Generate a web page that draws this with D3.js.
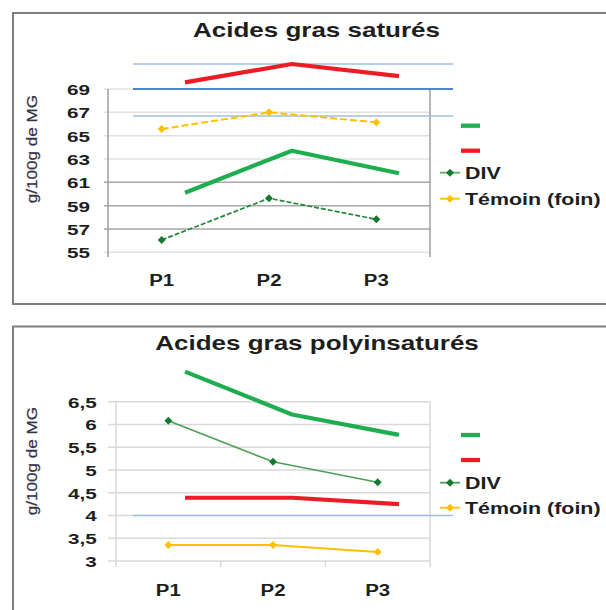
<!DOCTYPE html>
<html><head><meta charset="utf-8">
<script src="https://cdn.jsdelivr.net/npm/d3@7"></script>
<style>
html,body{margin:0;padding:0;background:#fff;}
svg{display:block;font-family:"Liberation Sans",Arial,sans-serif;}
</style></head><body>
<svg id="c" width="606" height="610"></svg>
<script>
// ---------- DATA ----------
const categories = ["P1", "P2", "P3"];
const legendLabels = ["", "", "DIV", "Témoin (foin)"];
const yAxisTitle = "g/100g de MG";

// Chart 1 : Acides gras saturés
const satTitle = "Acides gras saturés";
const satTicks = [55, 57, 59, 61, 63, 65, 67, 69];
const satTickLabels = ["55", "57", "59", "61", "63", "65", "67", "69"];
const satDIV = [56.06, 59.63, 57.83];
const satTemoin = [65.57, 67.0, 66.14];
const satGreen = [60.11, 63.71, 61.78];
const satRed = [69.57, 71.14, 70.11];
const satRefLines = [71.14, 69, 66.69];
const satStrongGrid = [57, 59, 61];

// Chart 2 : Acides gras polyinsaturés
const polyTitle = "Acides gras polyinsaturés";
const polyTicks = [3, 3.5, 4, 4.5, 5, 5.5, 6, 6.5];
const polyTickLabels = ["3", "3,5", "4", "4,5", "5", "5,5", "6", "6,5"];
const polyDIV = [6.08, 5.18, 4.73];
const polyTemoin = [3.35, 3.35, 3.20];
const polyGreen = [7.16, 6.22, 5.77];
const polyRed = [4.39, 4.39, 4.25];
const polyRefLines = [4.0];
const polyStrongGrid = [];

// ---------- STYLE / LAYOUT ----------
const C = {
  green: "#1fae4f", red: "#ec1c24", div: "#1f8539", divMarker: "#157a2f",
  yellow: "#ffc000", frame: "#7f7f7f", text: "#1e1e1e", ytitle: "#34354c"
};

const panels = [
  {
    title: satTitle, ticks: satTicks, tickLabels: satTickLabels,
    div: satDIV, temoin: satTemoin, green: satGreen, red: satRed,
    refLines: satRefLines, strong: satStrongGrid,
    frameY: 13, frameH: 291, titleY: 37, titleX: 316.5,
    plotX: [108, 430], yDomain: [55, 69], yRange: [252.3, 89], axisBottom: 257,
    gridX0: 104, labelEnd: 90, catBase: 286, yTitleY: 149,
    legendY: [125.7, 150.7, 172.7, 198.7],
    axisColor: "#9c9c9c", gridLight: "#e2e2e2", gridStrong: "#a8a8a8",
    dashed: true, divLineColor: "#23873a", divLegendLine: "#5cb460"
  },
  {
    title: polyTitle, ticks: polyTicks, tickLabels: polyTickLabels,
    div: polyDIV, temoin: polyTemoin, green: polyGreen, red: polyRed,
    refLines: polyRefLines, strong: polyStrongGrid,
    frameY: 326.5, frameH: 400, titleY: 350, titleX: 317,
    plotX: [116, 430], yDomain: [3, 6.5], yRange: [561, 401.7], axisBottom: 567,
    gridX0: 108, labelEnd: 96.7, catBase: 596, yTitleY: 461,
    legendY: [435, 460, 482.7, 507.7],
    axisColor: "#d9d9d9", gridLight: "#d9d9d9", gridStrong: "#a8a8a8",
    dashed: false, divLineColor: "#4c9f5a", divLegendLine: "#4c9f5a"
  }
];

const svg = d3.select("#c");

panels.forEach(p => {
  const g = svg.append("g");

  // frame
  g.append("rect").attr("x", 13).attr("y", p.frameY).attr("width", 700).attr("height", p.frameH)
    .attr("fill", "none").attr("stroke", C.frame).attr("stroke-width", 2);

  // title
  g.append("text").attr("transform", `translate(${p.titleX},${p.titleY}) scale(1.3,1)`)
    .attr("text-anchor", "middle").attr("font-size", 20).attr("font-weight", "bold")
    .attr("fill", C.text).text(p.title);

  const x = d3.scaleBand().domain(categories).range(p.plotX);
  const xc = c => x(c) + x.bandwidth() / 2;
  const xo = d3.scalePoint().domain(categories).range([185, 399]);
  const y = d3.scaleLinear().domain(p.yDomain).range(p.yRange);

  // grid lines
  g.append("g").selectAll("line").data(p.ticks).join("line")
    .attr("x1", p.gridX0).attr("x2", p.plotX[1])
    .attr("y1", d => y(d)).attr("y2", d => y(d))
    .attr("stroke", d => p.strong.includes(d) ? p.gridStrong : p.gridLight)
    .attr("stroke-width", 1.5);

  // vertical frame lines of plot
  [p.plotX[0], p.plotX[1]].forEach(xx => {
    g.append("line").attr("x1", xx).attr("x2", xx).attr("y1", y(p.yDomain[1])).attr("y2", p.axisBottom)
      .attr("stroke", p.axisColor).attr("stroke-width", 1.5);
  });
  // category boundary ticks
  if (!p.dashed) {
    g.append("g").selectAll("line").data(categories.slice(1)).join("line")
      .attr("x1", d => x(d)).attr("x2", d => x(d))
      .attr("y1", y(p.yDomain[0])).attr("y2", p.axisBottom)
      .attr("stroke", p.axisColor).attr("stroke-width", 1.5);
  }

  // y axis labels
  const ya = g.append("g").attr("transform", `translate(${p.plotX[0]},0)`)
    .call(d3.axisLeft(y).tickValues(p.ticks).tickSize(0)
      .tickFormat((d, i) => p.tickLabels[i]));
  ya.select(".domain").remove();
  const sxT = 1.38;
  ya.selectAll("text")
    .attr("x", (p.labelEnd - p.plotX[0]) / sxT).attr("dy", null).attr("y", 5.4)
    .attr("transform", `scale(${sxT},1)`)
    .attr("font-size", 15).attr("font-weight", "bold").attr("fill", C.text)
    .attr("font-family", "Liberation Sans, Arial, sans-serif");

  // x axis labels
  const xa = g.append("g").attr("transform", `translate(0,${p.catBase})`)
    .call(d3.axisBottom(x).tickSize(0));
  xa.select(".domain").remove();
  xa.selectAll("text").attr("y", 0).attr("dy", null)
    .attr("transform", "scale(1.2,1)")
    .attr("font-size", 17).attr("font-weight", "bold").attr("fill", C.text)
    .attr("font-family", "Liberation Sans, Arial, sans-serif");

  // y title
  g.append("text").attr("transform", `translate(36.5,${p.yTitleY}) rotate(-90) scale(1.14,1)`)
    .attr("text-anchor", "middle").attr("font-size", 15).attr("fill", C.ytitle)
    .attr("stroke", C.ytitle).attr("stroke-width", 0.25).text(yAxisTitle);

  // reference blue lines
  g.append("g").selectAll("line").data(p.refLines).join("line")
    .attr("x1", 133).attr("x2", 453)
    .attr("y1", d => y(d)).attr("y2", d => y(d))
    .attr("stroke", d => (p.dashed && d === p.yDomain[1]) ? "#4f86c9" : "#9fbfe3")
    .attr("stroke-width", d => (p.dashed && d === p.yDomain[1]) ? 2.2 : 1.6);

  // thin series with markers
  const lineThin = d3.line().x((d, i) => xc(categories[i])).y(d => y(d));
  const diamond = d3.symbol(d3.symbolDiamond2, 40);

  const thin = [
    { vals: p.temoin, color: C.yellow, marker: C.yellow, dash: p.dashed ? "7,3" : null, w: 2 },
    { vals: p.div, color: p.divLineColor, marker: C.divMarker, dash: p.dashed ? "5,2" : null, w: 1.7 }
  ];
  thin.forEach(s => {
    g.append("path").attr("d", lineThin(s.vals)).attr("fill", "none")
      .attr("stroke", s.color).attr("stroke-width", s.w)
      .attr("stroke-dasharray", s.dash);
    g.append("g").selectAll("path").data(s.vals).join("path")
      .attr("d", diamond)
      .attr("transform", (d, i) => `translate(${xc(categories[i])},${y(d)})`)
      .attr("fill", s.marker);
  });

  // thick overlay series
  const lineThick = d3.line().x((d, i) => xo(categories[i])).y(d => y(d));
  [{ vals: p.green, color: C.green }, { vals: p.red, color: C.red }].forEach(s => {
    g.append("path").attr("d", lineThick(s.vals)).attr("fill", "none")
      .attr("stroke", s.color).attr("stroke-width", 4.2).attr("stroke-linejoin", "round");
  });

  // legend
  const lg = g.append("g");
  const legendItems = [
    { type: "bar", color: C.green, label: legendLabels[0] },
    { type: "bar", color: C.red, label: legendLabels[1] },
    { type: "marker", color: p.divLegendLine, marker: C.divMarker, label: legendLabels[2] },
    { type: "marker", color: C.yellow, marker: C.yellow, label: legendLabels[3] }
  ];
  legendItems.forEach((it, i) => {
    const ly = p.legendY[i];
    if (it.type === "bar") {
      lg.append("line").attr("x1", 461).attr("x2", 480).attr("y1", ly).attr("y2", ly)
        .attr("stroke", it.color).attr("stroke-width", 4.3);
    } else {
      lg.append("line").attr("x1", 440).attr("x2", 460).attr("y1", ly).attr("y2", ly)
        .attr("stroke", it.color).attr("stroke-width", 1.8);
      lg.append("path").attr("d", diamond).attr("transform", `translate(450,${ly})`).attr("fill", it.marker);
      lg.append("text").attr("transform", `translate(465,${ly + 6.1}) scale(1.26,1)`)
        .attr("font-size", 17).attr("font-weight", "bold").attr("fill", C.text).text(it.label);
    }
  });
});
</script>
</body></html>
